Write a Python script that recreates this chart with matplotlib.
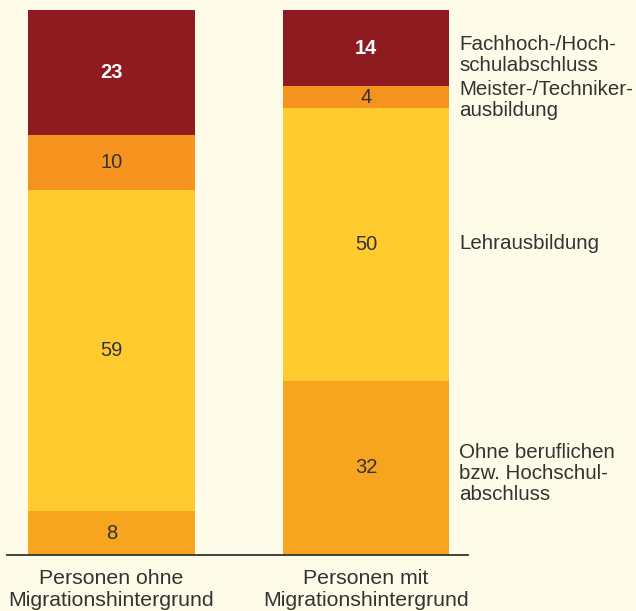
import matplotlib
matplotlib.use("Agg")
import matplotlib.pyplot as plt

categories = ["Personen ohne\nMigrationshintergrund", "Personen mit\nMigrationshintergrund"]
series_names = ["Ohne beruflichen\nbzw. Hochschul-\nabschluss", "Lehrausbildung",
                "Meister-/Techniker-\nausbildung", "Fachhoch-/Hoch-\nschulabschluss"]
ohne_abschluss = [8, 32]
lehre = [59, 50]
meister = [10, 4]
hochschule = [23, 14]

series = [ohne_abschluss, lehre, meister, hochschule]
colors = ["#F7A51E", "#FFCB2F", "#F6921E", "#8E1B20"]
text_colors = ["#333333", "#333333", "#333333", "#FFFFFF"]
weights = ["normal", "normal", "normal", "bold"]

bg = "#FEFCE8"
plt.rcParams['font.family'] = ['Liberation Sans', 'DejaVu Sans']

W, H = 636, 611
fig = plt.figure(figsize=(W / 100, H / 100), dpi=100, facecolor=bg)
ax = fig.add_axes([7 / W, (H - 555) / H, (468 - 7) / W, (555 - 10) / H])
ax.set_facecolor(bg)

x = [0, 1]
bar_w = 0.656
bottoms = [0, 0]
for vals, c, tc, fw in zip(series, colors, text_colors, weights):
    ax.bar(x, vals, bottom=bottoms, width=bar_w, color=c, edgecolor='none')
    for xi, v, b in zip(x, vals, bottoms):
        ax.text(xi, b + v / 2, str(v), ha='center', va='center', color=tc,
                fontsize=14.5, fontweight=fw)
    bottoms = [b + v for b, v in zip(bottoms, vals)]

ax.set_xlim(-0.4106, 1.4008)
ax.set_ylim(0, 100)
for s in ['top', 'right', 'left']:
    ax.spines[s].set_visible(False)
ax.spines['bottom'].set_color('#333333')
ax.spines['bottom'].set_linewidth(1.3)
ax.set_yticks([])
ax.set_xticks(x)
ax.set_xticklabels(categories, fontsize=15.3, color='#333333', linespacing=1.22)
ax.tick_params(axis='x', length=0, pad=10)

# right-side labels, placed beside the second bar's segments
label_y = [14.9, 57.2, 83.5, 91.7]
for name, ly in zip(series_names, label_y):
    fig.text(459 / W, ax.transData.transform((0, ly))[1] / H, name,
             ha='left', va='center', fontsize=14.8, color='#333333', linespacing=1.14)

fig.savefig("out.png", dpi=100, facecolor=bg)
